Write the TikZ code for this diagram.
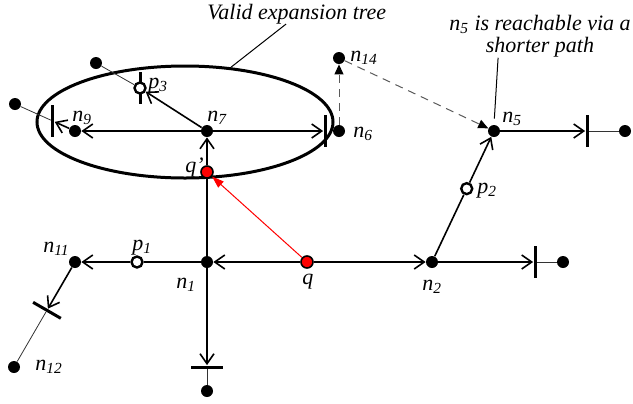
\documentclass[tikz,border=0pt]{standalone}
\usepackage{fontspec}
\setmainfont{Liberation Serif}
\usepackage{tikz}
\usetikzlibrary{positioning,calc,arrows.meta,shapes.geometric}
\definecolor{qred}{RGB}{255, 0, 0}
\definecolor{dashgray}{RGB}{90, 90, 90}
\newcommand{\nlab}[1]{n\textsubscript{#1}}
\newcommand{\plab}[1]{p\textsubscript{#1}}

\begin{document}
\begin{tikzpicture}[
    x=0.5pt, y=-0.5pt,
    font=\fontsize{11}{11}\selectfont\itshape,
    vertex/.style={circle, fill=black, inner sep=0pt, minimum size=6pt},
    hollow/.style={circle, draw=black, fill=white, line width=1.2pt, inner sep=0pt, minimum size=5.5pt},
    qdot/.style={circle, draw=black, fill=qred, line width=0.8pt, inner sep=0pt, minimum size=6pt},
    stopbar/.style={rectangle, fill=black, inner sep=0pt, minimum width=1.5pt, minimum height=16pt},
    tag/.style={inner sep=0pt, anchor=base west},
    link/.style={line width=0.8pt},
    arrow/.style={link, -{Straight Barb[length=5pt, width=7pt]}},
    stub/.style={line width=0.4pt, color=black!80},
    shortcut/.style={dash pattern=on 4pt off 3pt, line width=0.5pt, color=dashgray,
                     -{Triangle[length=5pt, width=4.5pt, color=black]}},
    redarrow/.style={line width=0.5pt, color=qred, -{Triangle[length=6pt, width=4pt]}},
    note/.style={align=center, inner sep=0pt},
    leader/.style={line width=0.5pt}
]
    \useasboundingbox (0,0) rectangle (633,403);

    % Valid expansion tree and notes
    \node[draw, ellipse, line width=1.5pt, inner sep=0pt, minimum width=148pt, minimum height=56pt] (tree) at (185,122) {};
    \node[tag] (treelbl) at (207,19) {Valid expansion tree};
    \node[note, anchor=north] (reach) at (540,15) {\nlab{5} is reachable via a\\shorter path};

    % Upper nodes
    \node[vertex] (n7) at (207,131) {};
    \node[vertex] (n9) at (75,131) {};
    \node[vertex] (n6) at (339,131) {};
    \node[vertex] (n14) at (339,58) {};
    \node[vertex] (n5) at (494,131) {};
    \node[stopbar] (b3) at (140,88) {};
    \node[hollow] (p3) at (140,88) {};
    \node[vertex] (e3) at (96,63) {};
    \node[vertex] (e9) at (15,104) {};
    \node[stopbar] (b9) at ($(n9)!0.37!(e9)$) {};
    \node[stopbar] (b6) at (325,131) {};
    \node[stopbar] (b5) at (587,131) {};
    \node[vertex] (e5) at (625,131) {};
    \node[qdot] (qq) at (207,172) {};

    % Lower nodes
    \node[vertex] (n1) at (207,262) {};
    \node[qdot] (q) at (307,262) {};
    \node[vertex] (n2) at (432,262) {};
    \node[hollow] (p1) at (137,262) {};
    \node[vertex] (n11) at (75,262) {};
    \node[vertex] (n12) at (14,367) {};
    \node[stopbar, rotate=60] (b11) at ($(n11)!0.46!(n12)$) {};
    \node[stopbar, rotate=90] (b1) at (207,367) {};
    \node[vertex] (e1) at (207,391) {};
    \node[stopbar] (b2) at (535,262) {};
    \node[vertex] (e2) at (563,262) {};
    \node[hollow] (p2) at ($(n2)!0.56!(n5)$) {};

    % Node names
    \node[tag] (t7) at (207,121) {\nlab{7}};
    \node[tag] (t9) at (72,121) {\nlab{9}};
    \node[tag] (t6) at (353,137) {\nlab{6}};
    \node[tag] (t14) at (350,61) {\nlab{14}};
    \node[tag] (t5) at (502,122) {\nlab{5}};
    \node[tag] (tp3) at (148,88) {\plab{3}};
    \node[tag] (tqq) at (185,172) {q'};
    \node[tag] (t1) at (176,288) {\nlab{1}};
    \node[tag] (tq) at (302,284) {q};
    \node[tag] (t2) at (422,290) {\nlab{2}};
    \node[tag] (tp1) at (132,250) {\plab{1}};
    \node[tag] (t11) at (43,252) {\nlab{11}};
    \node[tag] (t12) at (35,370) {\nlab{12}};
    \node[tag] (tp2) at (477,193) {\plab{2}};

    % Edges of the tree
    \draw[arrow] (n7) -- (n9);
    \draw[arrow] (n9) -- (b9);
    \draw[stub] (b9) -- (e9);
    \draw[arrow] (n7) -- (p3);
    \draw[stub] (p3) -- (e3);
    \draw[arrow] (n7) -- (b6);
    \draw[link] (n1) -- (qq);
    \draw[arrow] (qq) -- (n7);

    % Edges from q
    \draw[redarrow] (q) -- (qq);
    \draw[arrow] (q) -- (n1);
    \draw[link] (n1) -- (p1);
    \draw[arrow] (p1) -- (n11);
    \draw[arrow] (n11) -- (b11);
    \draw[stub] (b11) -- (n12);
    \draw[arrow] (n1) -- (b1);
    \draw[stub] (b1) -- (e1);
    \draw[arrow] (q) -- (n2);
    \draw[arrow] (n2) -- (b2);
    \draw[stub] (b2) -- (e2);
    \draw[link] (n2) -- (p2);
    \draw[arrow] (p2) -- (n5);
    \draw[arrow] (n5) -- (b5);
    \draw[stub] (b5) -- (e5);

    % Shorter path
    \draw[shortcut] (n6) -- (n14);
    \draw[shortcut] (n14) -- (n5);

    % Leaders
    \draw[leader] ($(treelbl.south)!0.12!(treelbl.south west)$) -- (tree.50);
    \draw[leader, shorten >=3pt] ($(reach.south west)!0.27!(reach.south east)$) -- (n5.north);
\end{tikzpicture}
\end{document}
